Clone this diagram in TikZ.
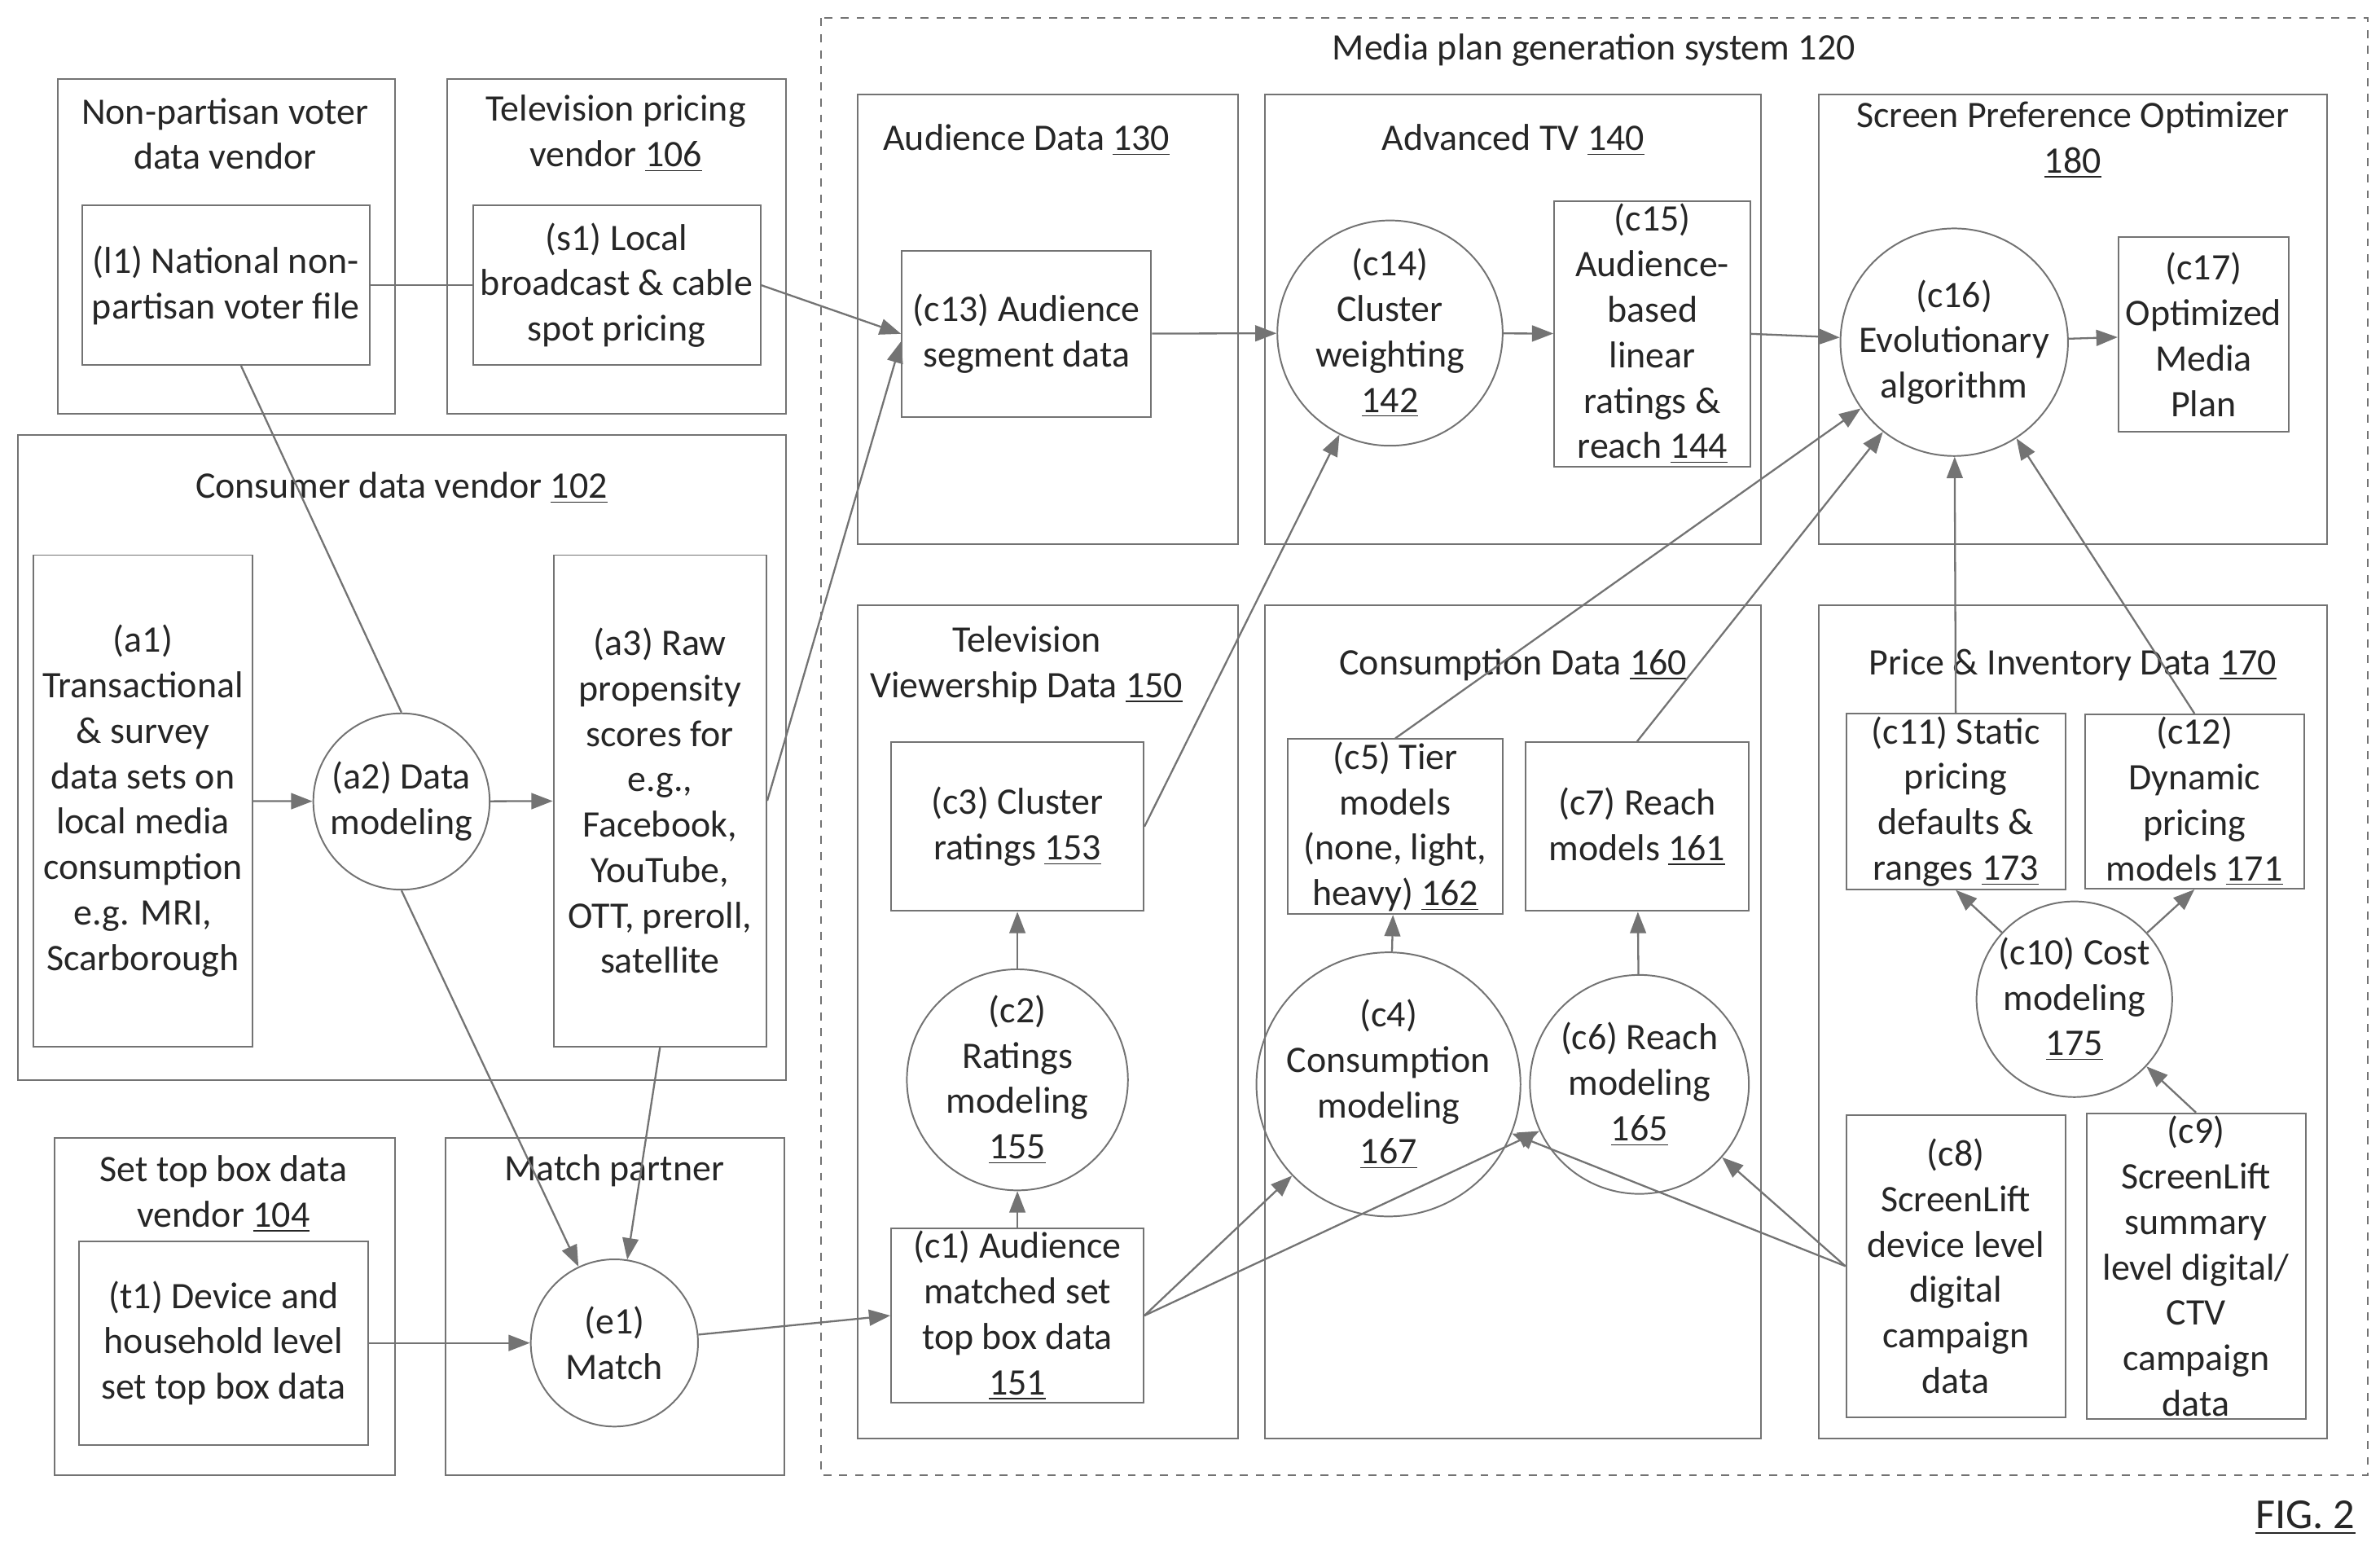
\documentclass[tikz,border=0pt]{standalone}
\usepackage{fontspec}
\setmainfont{Carlito}
\usetikzlibrary{arrows.meta}
\begin{document}
\begin{tikzpicture}[x=0.02cm,y=-0.02cm,
  every node/.style={font=\fontsize{14}{17}\selectfont, text=black!85},
  cont/.style={draw=black!55, line width=0.6pt},
  box/.style={draw=black!55, line width=0.6pt, align=center, inner sep=1pt},
  sz/.style 2 args={minimum width=#1*0.02cm, minimum height=#2*0.02cm},
  circ/.style={draw=black!55, line width=0.6pt, circle, align=center, inner sep=0pt, minimum size=#1*0.04cm},
  ttl/.style={align=center},
  ar/.style={draw=black!55, line width=0.7pt, -{Triangle[length=8pt,width=6pt]}},
  ln/.style={draw=black!55, line width=0.7pt}]
\useasboundingbox (0,0) rectangle (1565,1022);
% containers
\draw[cont] (38,52) rectangle (260,272);
\draw[cont] (294,52) rectangle (517,272);
\draw[cont] (12,286) rectangle (517,710);
\draw[cont] (36,748) rectangle (260,970);
\draw[cont] (293,748) rectangle (516,970);
\draw[black!55, dashed, line width=0.6pt] (540,12) rectangle (1557,970);
\draw[cont] (564,62) rectangle (814,358);
\draw[cont] (832,62) rectangle (1158,358);
\draw[cont] (1196,62) rectangle (1530,358);
\draw[cont] (564,398) rectangle (814,946);
\draw[cont] (832,398) rectangle (1158,946);
\draw[cont] (1196,398) rectangle (1530,946);
% titles
\node[ttl] (T1) at (148,88) {Non-partisan voter\\data vendor};
\node[ttl] (T2) at (405,88) {Television pricing\\vendor \underline{106}};
\node[ttl] (T3) at (264,321) {Consumer data vendor \underline{102}};
\node[ttl] (T4) at (147,785) {Set top box data\\vendor \underline{104}};
\node[ttl] (T5) at (404,770) {Match partner};
\node[ttl] (T6) at (1048,33) {Media plan generation system 120};
\node[ttl] (T7) at (675,92) {Audience Data \underline{130}};
\node[ttl] (T8) at (995,92) {Advanced TV \underline{140}};
\node[ttl] (T9) at (1363,92) {Screen Preference Optimizer\\\underline{180}};
\node[ttl] (T10) at (675,437) {Television\\Viewership Data \underline{150}};
\node[ttl] (T11) at (995,437) {Consumption Data \underline{160}};
\node[ttl] (T12) at (1363,437) {Price \& Inventory Data \underline{170}};
\node (fig) at (1516,998) {\fontsize{16}{19}\selectfont\underline{FIG. 2}};
% boxes
\node[box,sz={189}{105}] (l1) at (148.5,187.5) {(l1) National non-\\partisan voter file};
\node[box,sz={189}{105}] (s1) at (405.5,187.5) {(s1) Local\\broadcast \& cable\\spot pricing};
\node[box,sz={144}{323}] (a1) at (94,526.5) {(a1)\\Transactional\\\& survey\\data sets on\\local media\\consumption\\e.g. MRI,\\Scarborough};
\node[circ=58] (a2) at (264,527) {(a2) Data\\modeling};
\node[box,sz={140}{323}] (a3) at (434,526.5) {(a3) Raw\\propensity\\scores for\\e.g.,\\Facebook,\\YouTube,\\OTT, preroll,\\satellite};
\node[box,sz={190}{134}] (t1) at (147,883) {(t1) Device and\\household level\\set top box data};
\node[circ=55] (e1) at (404,883) {(e1)\\Match};
\node[box,sz={164}{109}] (c13) at (675,219.5) {(c13) Audience\\segment data};
\node[circ=64] (c14) at (914,219) {(c14)\\Cluster\\weighting\\\underline{142}};
\node[box,sz={129}{169}] (c15) at (1086.5,219.5) {(c15)\\Audience-\\based\\linear\\ratings \&\\reach \underline{144}};
\node[circ=70] (c16) at (1285,225) {(c16)\\Evolutionary\\algorithm};
\node[box,sz={112}{128}] (c17) at (1449,220) {(c17)\\Optimized\\Media\\Plan};
\node[box,sz={166}{111}] (c3) at (669,543.5) {(c3) Cluster\\ratings \underline{153}};
\node[circ=60] (c2) at (669,710) {(c2)\\Ratings\\modeling\\\underline{155}};
\node[box,sz={166}{110}] (c1) at (669,865) {(c1) Audience\\matched set\\top box data\\\underline{151}};
\node[box,sz={141}{111}] (c5) at (917.5,543.5) {(c5) Tier\\models\\(none, light,\\heavy) \underline{162}};
\node[box,sz={147}{111}] (c7) at (1076.5,543.5) {(c7) Reach\\models \underline{161}};
\node[circ=72] (c4) at (913,713) {(c4)\\Consumption\\modeling\\\underline{167}};
\node[circ=72] (c6) at (1078,713) {(c6) Reach\\modeling\\\underline{165}};
\node[box,sz={144}{110}] (c11) at (1286,527) {(c11) Static\\pricing\\defaults \&\\ranges \underline{173}};
\node[box,sz={144}{110}] (c12) at (1443,527) {(c12)\\Dynamic\\pricing\\models \underline{171}};
\node[circ=58] (c10) at (1364,657) {(c10) Cost\\modeling\\\underline{175}};
\node[box,sz={144}{199}] (c8) at (1286,832.5) {(c8)\\ScreenLift\\device level\\digital\\campaign\\data};
\node[box,sz={144}{199}] (c9) at (1444,832.5) {(c9)\\ScreenLift\\summary\\level digital/\\CTV\\campaign\\data};
% connectors
\draw[ln] (l1.east) -- (s1.west);
\draw[ar] (s1.east) -- (c13.west);
\draw[ar] (a3.east) -- ([yshift=-0.1cm]c13.west);
\draw[ln] (l1.south) ++(10,0) coordinate (l1b) -- (a2.north);
\draw[ar] (a1) -- (a2);
\draw[ar] (a2) -- (a3);
\draw[ar] (a2.south) -- (e1);
\draw[ar] (a3.south) -- (e1);
\draw[ar] (t1) -- (e1);
\draw[ar] (e1) -- (c1.west);
\draw[ar] (c13) -- (c14);
\draw[ar] (c14) -- (c15);
\draw[ar] (c15.east) -- (c16);
\draw[ar] (c16) -- (c17);
\draw[ar] (c3.east) -- (c14);
\draw[ar] (c5.north) -- (c16);
\draw[ar] (c7.north) -- (c16);
\draw[ar] (c11.north) -- (c16);
\draw[ar] (c12.north) -- (c16);
\draw[ar] (c10) -- (c11.south);
\draw[ar] (c10) -- (c12.south);
\draw[ar] (c9.north) -- (c10);
\draw[ar] (c8.west) -- (c4);
\draw[ar] (c8.west) -- (c6);
\draw[ar] (c1.east) -- (c4);
\draw[ar] (c1.east) -- (c6);
\draw[ar] (c1) -- (c2);
\draw[ar] (c2) -- (c3);
\draw[ar] (c6) -- (c7);
\draw[ar] (c4) -- (c5);
\end{tikzpicture}
\end{document}
